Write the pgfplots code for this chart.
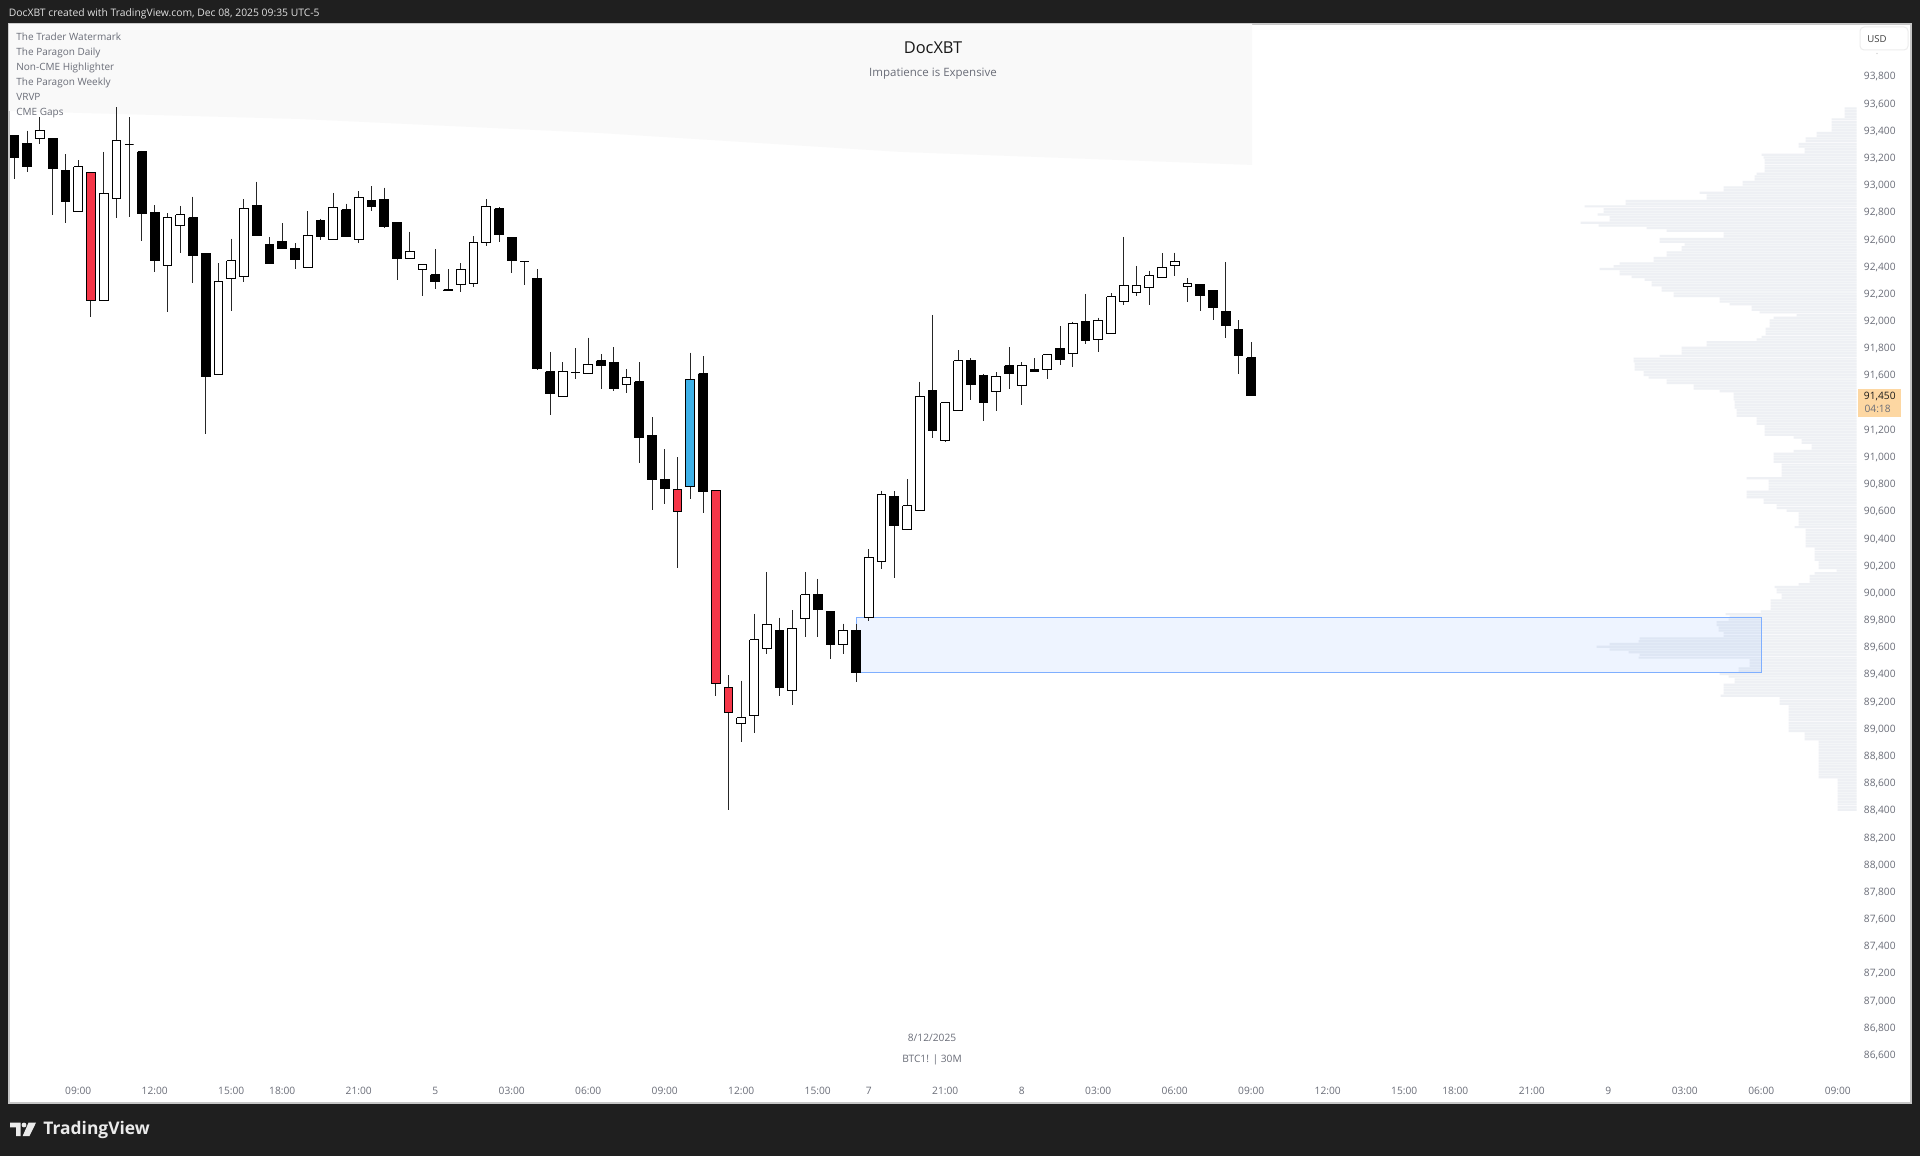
\documentclass[border=0pt]{standalone}
\usepackage{fontspec}
\setmainfont{Open Sans}
\usepackage{pgfplots}
\usepackage{pgfplotstable}
\pgfplotsset{compat=1.18}

\definecolor{dark}{HTML}{1F1F1F}
\definecolor{vol}{HTML}{EEF0F4}
\definecolor{labelgrey}{HTML}{6A6D78}
\definecolor{candlered}{HTML}{F53648}
\definecolor{candleblue}{HTML}{3DB1E8}
\definecolor{zone}{HTML}{2979FF}
\definecolor{priceorange}{HTML}{FDD7A2}

% x = bar index (30M bars), y = price; kind: k black, w white, r red, b blue
\pgfplotstableread{
i high top bot low kind
0 93358 93358 93199 93040 k
1 93397 93305 93130 93096 k
2 93496 93402 93336 93297 w
3 93336 93336 93116 92775 k
4 93224 93106 92878 92716 k
5 93180 93130 92799 92797 w
6 93091 93091 92149 92026 r
7 93241 92932 92149 92149 w
8 93569 93324 92897 92755 w
9 93496 93292 93292 92760 k
10 93248 93241 92787 92588 k
11 92848 92797 92439 92360 k
12 92789 92757 92402 92066 w
13 92843 92779 92703 92495 w
14 92912 92757 92478 92279 k
15 92495 92495 91587 91163 k
16 92422 92286 91600 91600 w
17 92603 92441 92311 92071 w
18 92893 92826 92323 92286 w
19 93022 92845 92625 92625 k
20 92615 92556 92419 92419 k
21 92716 92584 92529 92529 k
22 92569 92532 92451 92382 k
23 92804 92625 92394 92392 w
24 92750 92738 92617 92593 k
25 92939 92834 92595 92593 w
26 92860 92814 92617 92617 k
27 92951 92904 92595 92573 w
28 92988 92880 92838 92809 k
29 92978 92893 92689 92684 k
30 92723 92723 92458 92297 k
31 92654 92505 92458 92456 w
32 92414 92414 92375 92181 w
33 92525 92338 92284 92230 k
34 92377 92227 92223 92223 k
35 92422 92377 92267 92213 w
36 92622 92576 92271 92245 w
37 92893 92841 92576 92547 w
38 92834 92821 92632 92578 k
39 92610 92610 92439 92348 k
40 92436 92436 92433 92264 k
41 92377 92311 91644 91639 k
42 91769 91622 91465 91308 k
43 91693 91627 91440 91438 w
44 91796 91620 91620 91568 k
45 91874 91679 91607 91605 w
46 91752 91705 91666 91497 k
47 91803 91693 91497 91484 k
48 91642 91583 91528 91469 w
49 91693 91550 91141 90954 k
50 91288 91156 90832 90606 k
51 91053 90834 90761 90653 k
52 90996 90756 90594 90180 r
53 91764 91568 90776 90690 b
54 91737 91609 90741 90587 k
55 90751 90751 89331 89238 r
56 89390 89297 89115 88399 r
57 89350 89078 89037 88902 w
58 89841 89652 89096 88968 w
59 90150 89762 89586 89547 w
60 89814 89718 89302 89238 k
61 89868 89736 89280 89174 w
62 90150 89981 89807 89670 w
63 90099 89981 89876 89674 k
64 89858 89858 89613 89508 k
65 89770 89721 89613 89547 w
66 89765 89723 89414 89341 k
67 90317 90258 89814 89790 w
68 90748 90722 90229 90174 w
69 90744 90709 90489 90108 k
70 90834 90638 90464 90462 w
71 91550 91440 90606 90601 w
72 92041 91487 91193 91134 k
73 91399 91394 91116 91105 w
74 91781 91705 91335 91333 w
75 91723 91705 91528 91418 k
76 91607 91595 91394 91263 k
77 91620 91590 91477 91335 w
78 91806 91666 91607 91494 k
79 91693 91666 91524 91381 w
80 91723 91642 91624 91624 k
81 91752 91749 91639 91572 w
82 91958 91796 91717 91676 k
83 91992 91975 91756 91656 w
84 92196 91995 91852 91826 k
85 92021 92002 91859 91767 w
86 92201 92176 91904 91902 w
87 92615 92260 92137 92115 w
88 92402 92260 92208 92183 w
89 92367 92330 92245 92115 w
90 92495 92394 92319 92316 w
91 92500 92433 92407 92328 w
92 92311 92274 92252 92135 w
93 92267 92267 92181 92071 k
94 92223 92223 92095 92007 k
95 92429 92068 91960 91870 k
96 92002 91931 91742 91605 k
97 91840 91725 91450 91450 k
}\candles

\newcommand{\tinytext}{\fontsize{5.1pt}{6pt}\selectfont}

\begin{document}
\begin{tikzpicture}
\path[use as bounding box] (0,0) rectangle (960pt,578pt);
\fill[dark] (0,0) rectangle (960pt,578pt);
\fill[white] (4.5pt,26.5pt) rectangle (955.5pt,566pt);

% volume profile, bars grow to the left from the price scale
\begin{axis}[
  at={(4.5pt,26.5pt)},anchor=south west,scale only axis,
  width=951pt,height=539.5pt,
  hide axis,
  x dir=reverse,
  xmin=-54.3,xmax=1847.7,ymin=86243,ymax=94182,
  xbar,bar width=1.1pt,bar shift=0pt]
\addplot[fill=vol,draw=none] coordinates {
(12,93560)(12,93540)(12,93520)(12,93500)(25,93480)(25,93460)(25,93440)(25,93420)(25,93400)(40,93380)
(40,93360)(51,93340)(51,93320)(58,93300)(58,93280)(52,93260)(52,93240)(95,93220)(93,93200)(92,93180)
(92,93160)(92,93140)(92,93120)(92,93100)(100,93080)(102,93060)(102,93040)(114,93020)(114,93000)(133,92980)
(133,92960)(157,92940)(150,92920)(150,92900)(231,92880)(231,92860)(272,92840)(253,92820)(253,92800)(259,92780)
(247,92760)(247,92740)(276,92720)(258,92700)(210,92680)(190,92660)(133,92640)(133,92620)(197,92600)(197,92580)
(172,92560)(175,92540)(175,92520)(190,92500)(190,92480)(203,92460)(203,92440)(237,92420)(243,92400)(257,92380)
(237,92360)(237,92340)(225,92320)(212,92300)(205,92280)(205,92260)(195,92240)(195,92220)(183,92200)(183,92180)
(137,92160)(137,92140)(127,92120)(105,92100)(105,92080)(97,92060)(60,92040)(83,92020)(87,92000)(87,91980)
(87,91960)(91,91940)(91,91920)(91,91900)(95,91880)(100,91860)(150,91840)(150,91820)(175,91800)(175,91780)
(175,91760)(197,91740)(223,91720)(223,91700)(222,91680)(222,91660)(222,91640)(213,91620)(213,91600)(208,91580)
(190,91560)(190,91540)(163,91520)(163,91500)(137,91480)(123,91460)(123,91440)(123,91420)(122,91400)(122,91380)
(122,91360)(120,91340)(120,91320)(120,91300)(100,91280)(100,91260)(100,91240)(92,91220)(92,91200)(92,91180)
(92,91160)(63,91140)(55,91120)(55,91100)(45,91080)(45,91060)(63,91040)(83,91020)(83,91000)(83,90980)
(83,90960)(75,90940)(75,90920)(75,90900)(75,90880)(75,90860)(110,90840)(88,90820)(88,90800)(88,90780)
(88,90760)(110,90740)(110,90720)(110,90700)(93,90680)(93,90660)(80,90640)(80,90620)(70,90600)(58,90580)
(58,90560)(58,90540)(58,90520)(58,90500)(62,90480)(51,90460)(51,90440)(51,90420)(51,90400)(51,90380)
(51,90360)(51,90340)(42,90320)(42,90300)(42,90280)(42,90260)(42,90240)(38,90220)(38,90200)(38,90180)
(20,90160)(42,90140)(47,90120)(47,90100)(47,90080)(58,90060)(82,90040)(80,90020)(80,90000)(75,89980)
(75,89960)(86,89940)(86,89920)(86,89900)(86,89880)(96,89860)(131,89840)(127,89820)(128,89800)(140,89780)
(140,89760)(138,89740)(138,89720)(133,89700)(133,89680)(217,89660)(218,89640)(247,89620)(260,89600)(247,89580)
(228,89560)(217,89540)(218,89520)(107,89500)(107,89480)(107,89460)(118,89440)(118,89420)(137,89400)(128,89380)
(122,89360)(122,89340)(133,89320)(133,89300)(133,89280)(133,89260)(136,89240)(77,89220)(77,89200)(77,89180)
(68,89160)(68,89140)(68,89120)(68,89100)(68,89080)(68,89060)(68,89040)(68,89020)(68,89000)(68,88980)
(52,88960)(52,88940)(52,88920)(38,88900)(38,88880)(38,88860)(38,88840)(38,88820)(38,88800)(38,88780)
(38,88760)(38,88740)(38,88720)(38,88700)(38,88680)(38,88660)(38,88640)(19,88620)(19,88600)(19,88580)
(19,88560)(19,88540)(19,88520)(19,88500)(19,88480)(19,88460)(19,88440)(19,88420)(19,88400)};
\end{axis}

\begin{axis}[
  at={(4.5pt,26.5pt)},anchor=south west,scale only axis,
  width=951pt,height=539.5pt,
  xmin=-0.431,xmax=148.745,ymin=86243,ymax=94182,
  axis line style={draw=black!22,line width=0.6pt},
  major tick length=0pt,
  scaled y ticks=false,
  /pgf/number format/1000 sep={,},
  /pgf/number format/assume math mode=true,
  ytick={86600,86800,87000,87200,87400,87600,87800,88000,88200,88400,88600,88800,
         89000,89200,89400,89600,89800,90000,90200,90400,90600,90800,91000,91200,
         91600,91800,92000,92200,92400,92600,92800,93000,93200,93400,93600,93800},
  yticklabel pos=right,
  yticklabel style={anchor=east,xshift=-7.5pt,yshift=-0.5pt,inner sep=0pt,text=labelgrey,font=\tinytext},
  xtick={5,11,17,21,27,33,39,45,51,57,63,67,73,79,85,91,97,103,109,113,119,125,131,137,143},
  xticklabels={09:00,12:00,15:00,18:00,21:00,5,03:00,06:00,09:00,12:00,15:00,7,21:00,
               8,03:00,06:00,09:00,12:00,15:00,18:00,21:00,9,03:00,06:00,09:00},
  xticklabel style={anchor=center,yshift=6pt,inner sep=0pt,text=labelgrey,font=\tinytext},
  candle k/.style={fill=black},
  candle w/.style={fill=white},
  candle r/.style={fill=candlered},
  candle b/.style={fill=candleblue}]

% shaded watermark band behind the first candles
\addplot[fill=black!2.5,draw=none] coordinates {
  (-0.431,94182) (97.06,94182) (97.06,93145) (69.45,93241)
  (45.9,93380) (22.4,93483) (-0.431,93542) (-0.431,94182)};

% highlighted zone
\addplot[fill=zone,fill opacity=0.08,draw=zone!60,line width=0.5pt] coordinates {
  (66,89814) (137,89814) (137,89412) (66,89412) (66,89814)};

\pgfplotstablegetrowsof{\candles}
\pgfmathtruncatemacro\lastrow{\pgfplotsretval-1}
\pgfplotsinvokeforeach{0,...,\lastrow}{
  \pgfplotstablegetelem{#1}{high}\of\candles\let\vh\pgfplotsretval
  \pgfplotstablegetelem{#1}{top}\of\candles\let\vt\pgfplotsretval
  \pgfplotstablegetelem{#1}{bot}\of\candles\let\vb\pgfplotsretval
  \pgfplotstablegetelem{#1}{low}\of\candles\let\vl\pgfplotsretval
  \pgfplotstablegetelem{#1}{kind}\of\candles\let\vk\pgfplotsretval
  \pgfmathsetmacro\xa{#1-0.335}
  \pgfmathsetmacro\xb{#1+0.335}
  \edef\candleplot{%
    \noexpand\addplot[black!85,line width=0.5pt] coordinates {(#1,\vh) (#1,\vl)};
    \noexpand\addplot[candle \vk,draw=black,line width=0.5pt] coordinates
      {(\xa,\vt) (\xb,\vt) (\xb,\vb) (\xa,\vb) (\xa,\vt)};}
  \candleplot
}
\end{axis}

% everything below is placed in reference pixels
\begin{scope}[x=0.5pt,y=-0.5pt,yshift=578pt,every node/.style={inner sep=0pt}]
\node[anchor=west,text=black!12,font=\fontsize{5.17pt}{6pt}\selectfont] at (8.5,13.5)
  {DocXBT created with TradingView.com, Dec 08, 2025 09:35 UTC-5};
\foreach \yy/\name in {41/The Trader Watermark,56/The Paragon Daily,71/Non-CME Highlighter,
    86/The Paragon Weekly,100.5/VRVP,115.5/CME Gaps}
  \node[anchor=base west,text=labelgrey,font=\fontsize{5pt}{6pt}\selectfont] at (16,\yy) {\name};
\node[text=black!90,font=\fontsize{8.2pt}{9pt}\selectfont] at (933,47.5) {DocXBT};
\node[text=labelgrey,font=\fontsize{5.75pt}{7pt}\selectfont] at (933,73.5) {Impatience is Expensive};
\node[text=labelgrey,font=\tinytext] at (932,1038) {8/12/2025};
\node[text=labelgrey,font=\tinytext] at (932,1059.5) {BTC1! | 30M};
% USD box
\filldraw[fill=white,draw=black!7,line width=0.5pt,rounded corners=2pt] (1860,27) rectangle (1908,50);
\node[text=black!75,font=\fontsize{4.8pt}{6pt}\selectfont] at (1877,39) {USD};
\fill[black!25] (1877,53.5) circle (0.7);
% last price
\fill[priceorange] (1857.7,389.3) rectangle (1900.7,416.7);
\node[anchor=east,text=black!90,font=\tinytext] at (1896,396.5) {91,450};
\node[anchor=east,text=labelgrey,font=\tinytext] at (1891,409) {04:18};
% TradingView mark
\fill[black!8] (10,1122.7) -- (20.7,1122.7) -- (20.7,1136) -- (16,1136) -- (16,1127.3) -- (10,1127.3) --cycle;
\fill[black!8] (24,1125) circle (2.4);
\fill[black!8] (28.5,1122.7) -- (36,1122.7) -- (29.5,1136) -- (22.7,1136) --cycle;
\node[anchor=west,text=black!8,font=\fontsize{8.7pt}{10pt}\selectfont\bfseries] at (43,1130) {TradingView};
\end{scope}
\end{tikzpicture}
\end{document}
